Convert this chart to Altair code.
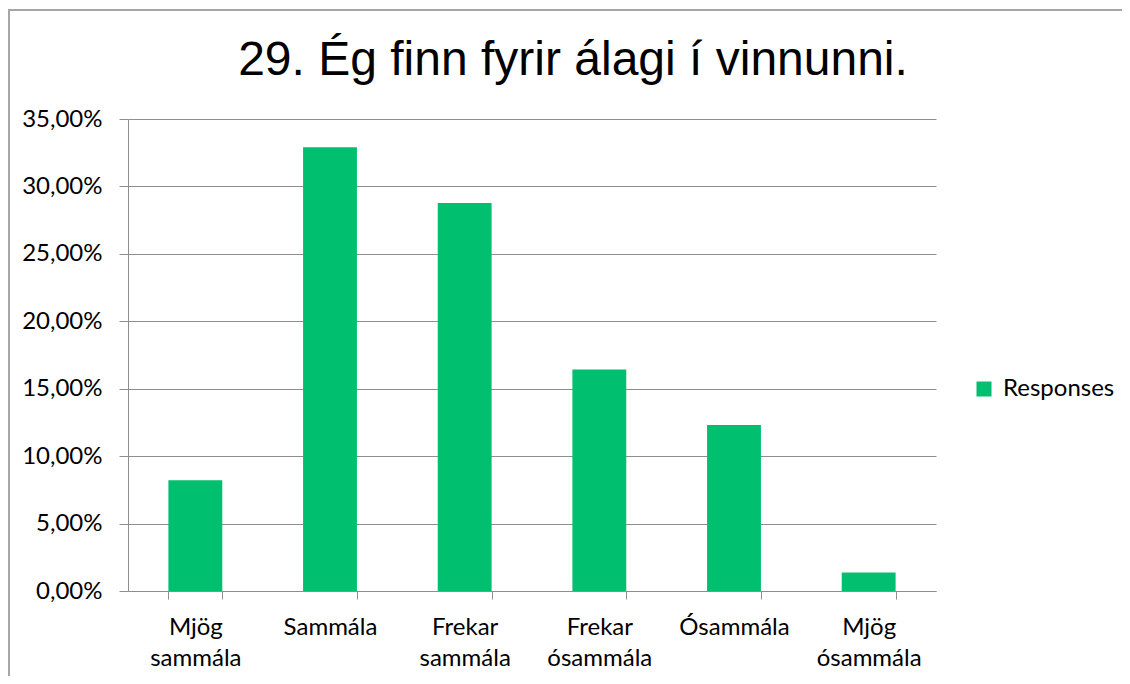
import altair as alt
import pandas as pd

categories = ["Mjög sammála", "Sammála", "Frekar sammála", "Frekar ósammála", "Ósammála", "Mjög ósammála"]
values = [8.21, 32.90, 28.78, 16.42, 12.31, 1.37]
series_name = "Responses"
y_ticks = [0, 5, 10, 15, 20, 25, 30, 35]
title_text = "29. Ég finn fyrir álagi í vinnunni."

df = pd.DataFrame({"cat": categories, "pct": values, "series": [series_name] * len(categories)})

GREEN = "#00BF6F"
GRID = "#8e8e8e"
LABEL_FONT = "Lato"

bars = alt.Chart(df).mark_bar().encode(
    x=alt.X(
        "cat:N",
        sort=categories,
        scale=alt.Scale(paddingInner=0.6, paddingOuter=0.3),
        axis=alt.Axis(
            title=None,
            labelAngle=0,
            labelExpr="split(datum.label, ' ')",
            labelLineHeight=31,
            tickBand="extent",
            tickSize=8,
            labelPadding=16,
            grid=False,
        ),
    ),
    y=alt.Y(
        "pct:Q",
        scale=alt.Scale(domain=[0, 35], nice=False),
        axis=alt.Axis(
            title=None,
            values=y_ticks,
            labelExpr="replace(format(datum.value, '.2f'), '.', ',') + '%'",
            tickSize=9,
            labelPadding=17,
            grid=True,
        ),
    ),
    color=alt.Color(
        "series:N",
        scale=alt.Scale(range=[GREEN]),
        legend=alt.Legend(
            title=None,
            orient="none",
            legendX=844,
            legendY=258,
            symbolType="square",
            symbolSize=225,
            symbolStrokeWidth=0,
            labelFontSize=24,
            labelFont=LABEL_FONT,
            labelColor="#000000",
            labelOffset=7,
            padding=0,
        ),
    ),
)

border = alt.Chart(alt.Data(values=[{}])).mark_rect(
    fill=None, fillOpacity=0, stroke="#a6a6a6", strokeWidth=2
).encode(
    x=alt.value(-119), x2=alt.value(1100), y=alt.value(-109), y2=alt.value(620)
)

chart = alt.layer(bars, border).properties(
    width=808,
    height=472,
    autosize=alt.AutoSizeParams(type="none"),
    padding={"left": 120, "top": 111, "right": 186, "bottom": 85},
    title=alt.Title(
        title_text,
        fontSize=48,
        font="Liberation Sans",
        fontWeight="normal",
        color="#000000",
        anchor="middle",
        baseline="alphabetic",
        dx=41,
        offset=-114,
    ),
).configure_view(stroke=None).configure_axis(
    labelFont=LABEL_FONT,
    labelFontSize=24,
    labelColor="#000000",
    domainColor=GRID,
    domainWidth=1,
    tickColor=GRID,
    tickWidth=1,
    gridColor=GRID,
    gridWidth=1,
)

chart.save("out.html", embed_options={"renderer": "svg", "actions": False})
